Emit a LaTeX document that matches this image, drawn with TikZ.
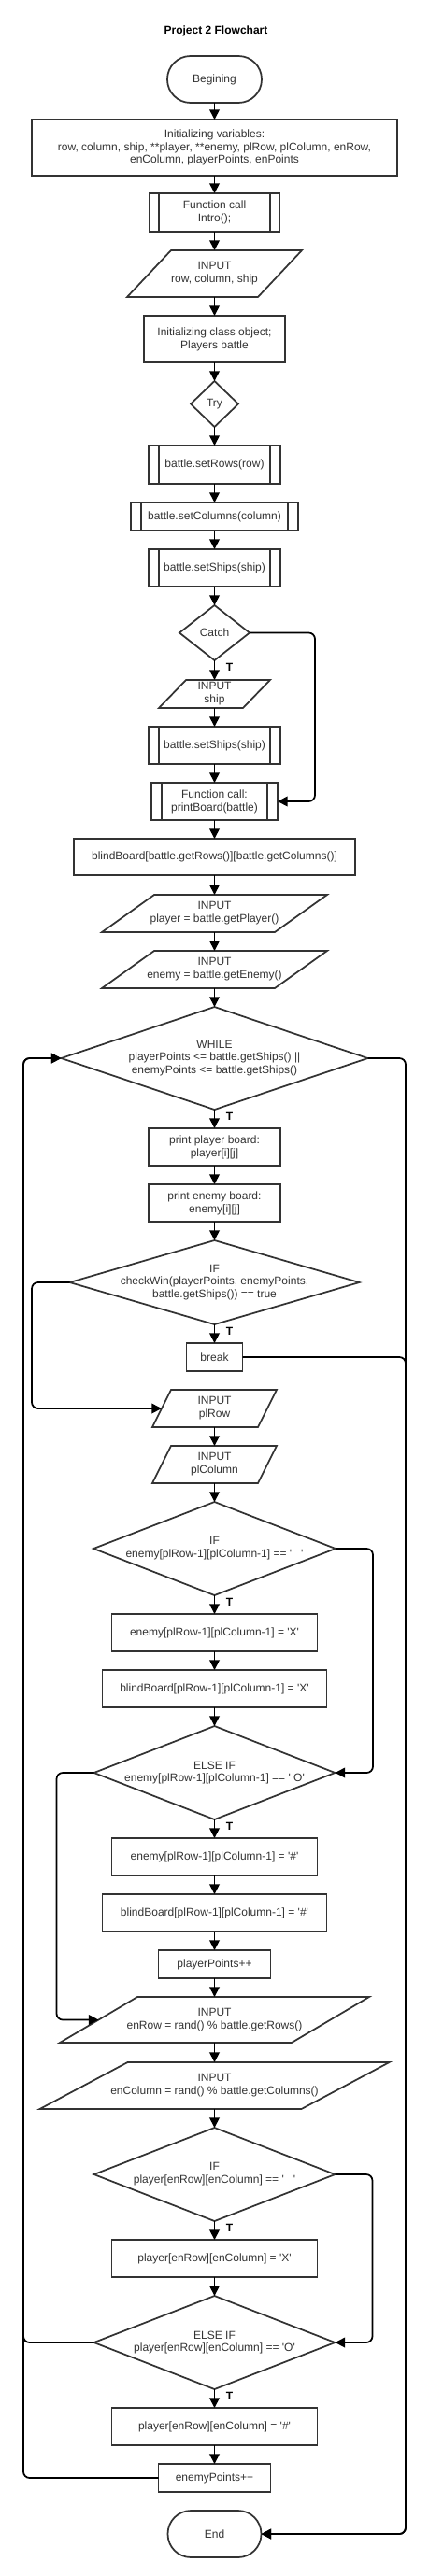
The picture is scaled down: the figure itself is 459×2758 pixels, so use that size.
\documentclass[tikz,border=0pt]{standalone}
\usepackage{fontspec}
\newfontfamily\af{Liberation Sans}
\usetikzlibrary{arrows.meta,calc}
\newcommand\drawpara[2]{\draw[shp] ($(#1.north west)+(#2,0)$) -- (#1.north east) -- ($(#1.south east)+(-#2,0)$) -- (#1.south west) -- cycle;}
\newcommand\drawdia[1]{\draw[shp] (#1.north) -- (#1.east) -- (#1.south) -- (#1.west) -- cycle;}
\begin{document}
\begin{tikzpicture}[x=0.75pt,y=-0.75pt,
  sz/.style 2 args={minimum width=#1*0.75pt,minimum height=#2*0.75pt},
  base/.style={rectangle,inner sep=0pt,outer sep=0pt,align=center,font=\af\fontsize{9pt}{10.4pt}\selectfont,text=black!80},
  box/.style={base,draw=black!80,line width=1.3pt},
  shp/.style={draw=black!80,line width=1.3pt,line join=miter},
  subr/.style={box,path picture={
     \draw[draw=black!80,line width=1.3pt] ([xshift=8pt]path picture bounding box.north west) -- ([xshift=8pt]path picture bounding box.south west);
     \draw[draw=black!80,line width=1.3pt] ([xshift=-8pt]path picture bounding box.north east) -- ([xshift=-8pt]path picture bounding box.south east);}},
  term/.style={box,rounded corners=18.6pt},
  conn/.style={draw=black,line width=1.3pt,-{Triangle[length=8pt,width=8pt]}},
  loopc/.style={conn,rounded corners=5pt},
  tl/.style={inner sep=0pt,font=\af\bfseries\fontsize{9pt}{10.4pt}\selectfont,text=black},
]
\fill[white] (0,0) rectangle (459,2758);
\path[use as bounding box] (0,0) rectangle (459,2758);

\node[tl] (title) at (231,33) {Project 2 Flowchart};

\node[term,sz={101}{50}] (begin) at (229.5,85) {Begining};
\node[box,sz={391}{60}] (init) at (229.5,158) {Initializing variables:\\row, column, ship, **player, **enemy, plRow, plColumn, enRow,\\enColumn, playerPoints, enPoints};
\node[subr,sz={140}{41}] (intro) at (229.5,227.5) {Function call\\Intro();};
\node[base,sz={187}{50}] (inrow) at (229.5,293) {INPUT\\row, column, ship};
\node[box,sz={151}{50}] (cls) at (229.5,363) {Initializing class object;\\Players battle};
\node[base,sz={51}{49}] (try) at (229.5,432.5) {Try};
\node[subr,sz={141}{41}] (setrows) at (229.5,497.5) {battle.setRows(row)};
\node[subr,sz={179}{30}] (setcols) at (229.5,553) {battle.setColumns(column)};
\node[subr,sz={141}{40}] (setships) at (229.5,608) {battle.setShips(ship)};
\node[base,sz={75}{59}] (catch) at (229.5,677.5) {Catch};
\node[base,sz={119}{30}] (inship) at (229.5,743) {INPUT\\ship};
\node[subr,sz={141}{40}] (setshipsb) at (229.5,798) {battle.setShips(ship)};
\node[subr,sz={135}{40}] (printb) at (229.5,858) {Function call:\\printBoard(battle)};
\node[box,sz={301}{39}] (blind) at (229.5,917.5) {blindBoard[battle.getRows()][battle.getColumns()]};
\node[base,sz={241}{40}] (inplayer) at (229.5,978) {INPUT\\player = battle.getPlayer()};
\node[base,sz={241}{40}] (inenemy) at (229.5,1038) {INPUT\\enemy = battle.getEnemy()};
\node[base,sz={328}{110}] (while) at (229.5,1133) {WHILE\\playerPoints <= battle.getShips() ||\\enemyPoints <= battle.getShips()};
\node[box,sz={141}{40}] (pp) at (229.5,1228) {print player board:\\player[i][j]};
\node[box,sz={141}{40}] (pe) at (229.5,1288) {print enemy board:\\enemy[i][j]};
\node[base,sz={310}{90}] (chk) at (229.5,1373) {IF\\checkWin(playerPoints, enemyPoints,\\battle.getShips()) == true};
\node[box,sz={60}{30}] (brk) at (229.5,1453) {break};
\node[base,sz={133}{40}] (inplrow) at (229.5,1508) {INPUT\\plRow};
\node[base,sz={133}{40}] (inplcol) at (229.5,1568) {INPUT\\plColumn};
\node[base,sz={259}{100}] (ifa) at (229.5,1658) {IF\\enemy[plRow-1][plColumn-1] == '~~~'};
\node[box,sz={220}{40}] (ex) at (229.5,1748) {enemy[plRow-1][plColumn-1] = 'X'};
\node[box,sz={240}{40}] (bx) at (229.5,1808) {blindBoard[plRow-1][plColumn-1] = 'X'};
\node[base,sz={258}{100}] (elifa) at (229.5,1898) {ELSE IF\\enemy[plRow-1][plColumn-1] == '~O'};
\node[box,sz={220}{40}] (eh) at (229.5,1988) {enemy[plRow-1][plColumn-1] = '\#'};
\node[box,sz={240}{40}] (bh) at (229.5,2048) {blindBoard[plRow-1][plColumn-1] = '\#'};
\node[box,sz={120}{30}] (ppp) at (229.5,2103) {playerPoints++};
\node[base,sz={331}{49}] (inenrow) at (229.5,2162.5) {INPUT\\enRow = rand() \% battle.getRows()};
\node[base,sz={374}{50}] (inencol) at (229.5,2233) {INPUT\\enColumn = rand() \% battle.getColumns()};
\node[base,sz={258}{100}] (ifb) at (229.5,2328) {IF\\player[enRow][enColumn] == '~~~'};
\node[box,sz={220}{40}] (plx) at (229.5,2418) {player[enRow][enColumn] = 'X'};
\node[base,sz={258}{100}] (elifb) at (229.5,2508) {ELSE IF\\player[enRow][enColumn] == 'O'};
\node[box,sz={220}{40}] (plh) at (229.5,2598) {player[enRow][enColumn] = '\#'};
\node[box,sz={120}{30}] (epp) at (229.5,2653) {enemyPoints++};
\node[term,sz={100}{50}] (endn) at (229.5,2713) {End};

% outlines of parallelograms and diamonds
\drawpara{inrow}{47}
\drawpara{inship}{29}
\drawpara{inplayer}{56}
\drawpara{inenemy}{56}
\drawpara{inplrow}{20}
\drawpara{inplcol}{20}
\drawpara{inenrow}{83}
\drawpara{inencol}{94}
\drawdia{try}
\drawdia{catch}
\drawdia{while}
\drawdia{chk}
\drawdia{ifa}
\drawdia{elifa}
\drawdia{ifb}
\drawdia{elifb}

% straight connectors
\foreach \a/\b in {begin/init,init/intro,intro/inrow,inrow/cls,cls/try,try/setrows,setrows/setcols,setcols/setships,setships/catch,catch/inship,inship/setshipsb,setshipsb/printb,printb/blind,blind/inplayer,inplayer/inenemy,inenemy/while,while/pp,pp/pe,pe/chk,chk/brk,inplrow/inplcol,inplcol/ifa,ifa/ex,ex/bx,bx/elifa,elifa/eh,eh/bh,bh/ppp,ppp/inenrow,inenrow/inencol,inencol/ifb,ifb/plx,plx/elifb,elifb/plh,plh/epp}
  \draw[conn] (\a.south) -- (\b.north);

% routed connectors
\draw[loopc] (catch.east) -- ++(70,0) |- (printb.east);
\draw[loopc] (while.east) -- ++(40.5,0) |- (endn.east);
\draw[loopc] (brk.east) -- ++(174.5,0) |- (endn.east);
\draw[loopc] (chk.west) -- ++(-40.5,0) |- ($(inplrow.west)+(10,0)$);
\draw[loopc] (ifa.east) -- ++(40,0) |- (elifa.east);
\draw[loopc] (elifa.west) -- ++(-40,0) |- ($(inenrow.west)+(41.5,0)$);
\draw[loopc] (ifb.east) -- ++(40,0) |- (elifb.east);
\draw[loopc] (elifb.west) -- ++(-75.5,0) |- (while.west);
\draw[loopc] (epp.west) -- ++(-144.5,0) |- (while.west);

% T labels
\node[tl] (t1) at ($(catch.south)+(16,7)$) {T};
\node[tl] (t2) at ($(while.south)+(16,7)$) {T};
\node[tl] (t3) at ($(chk.south)+(16,7)$) {T};
\node[tl] (t4) at ($(ifa.south)+(16,7)$) {T};
\node[tl] (t5) at ($(elifa.south)+(16,7)$) {T};
\node[tl] (t6) at ($(ifb.south)+(16,7)$) {T};
\node[tl] (t7) at ($(elifb.south)+(16,7)$) {T};
\end{tikzpicture}
\end{document}
